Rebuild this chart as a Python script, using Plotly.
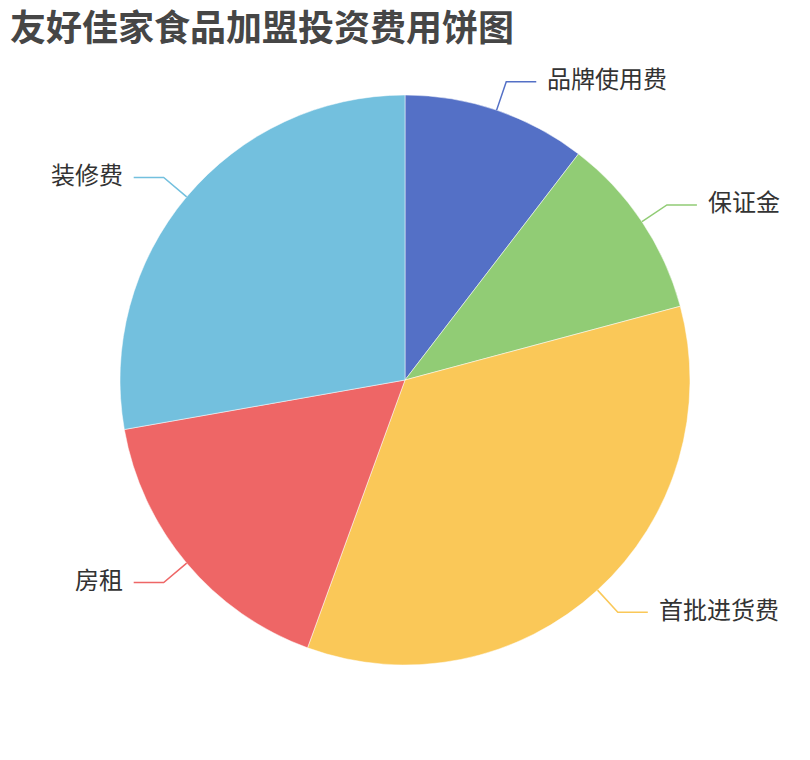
import math
import plotly.graph_objects as go

# 投资费用构成
labels = ["品牌使用费", "保证金", "首批进货费", "房租", "装修费"]
values = [3, 3, 10, 4.8, 8]
colors = ["#5470c6", "#91cc75", "#fac858", "#ee6666", "#73c0de"]

W, H = 810, 760
off = 8  # page body margin
cx, cy, r = 405 - off, 380 - off, 285

fig = go.Figure(go.Pie(
    labels=labels, values=values, sort=False, direction="clockwise",
    rotation=0, textinfo="none", hoverinfo="label+value+percent",
    marker=dict(colors=colors, line=dict(color="white", width=0.5)),
    domain=dict(x=[(cx - r) / W, (cx + r) / W], y=[1 - (cy + r) / H, 1 - (cy - r) / H]),
    showlegend=False,
))

# leader lines + outside labels, placed from the slice mid angles
total = sum(values)
start = 0.0
for lab, v, c in zip(labels, values, colors):
    mid = (start + v / 2) / total * 2 * math.pi
    start += v
    s, co = math.sin(mid), math.cos(mid)
    x0, y0 = cx + r * s, cy - r * co
    x1, y1 = cx + (r + 30) * s, cy - (r + 30) * co
    side = 1 if s >= 0 else -1
    x2 = x1 + side * 30
    pts = [(x0, y0), (x1, y1), (x2, y1)]
    path = "M " + " L ".join(f"{x / W},{1 - y / H}" for x, y in pts)
    fig.add_shape(type="path", path=path, xref="paper", yref="paper",
                  line=dict(color=c, width=1.5))
    fig.add_annotation(x=x2 / W, y=1 - y1 / H, xref="paper", yref="paper",
                       text=lab, showarrow=False,
                       xanchor="left" if side > 0 else "right", yanchor="middle",
                       xshift=9 * side, yshift=4,
                       font=dict(size=24, color="#333333", family="Noto Sans CJK SC"))

fig.update_layout(
    width=W, height=H,
    margin=dict(l=0, r=0, t=0, b=0),
    paper_bgcolor="white", plot_bgcolor="white",
    title=dict(text="<b>友好佳家食品加盟投资费用饼图</b>", x=2 / W, xanchor="left",
               y=1 - 20 / H, yanchor="middle", xref="container", yref="container",
               font=dict(size=36, color="#464646", family="Noto Sans CJK SC")),
)

fig.write_html("out.html")
